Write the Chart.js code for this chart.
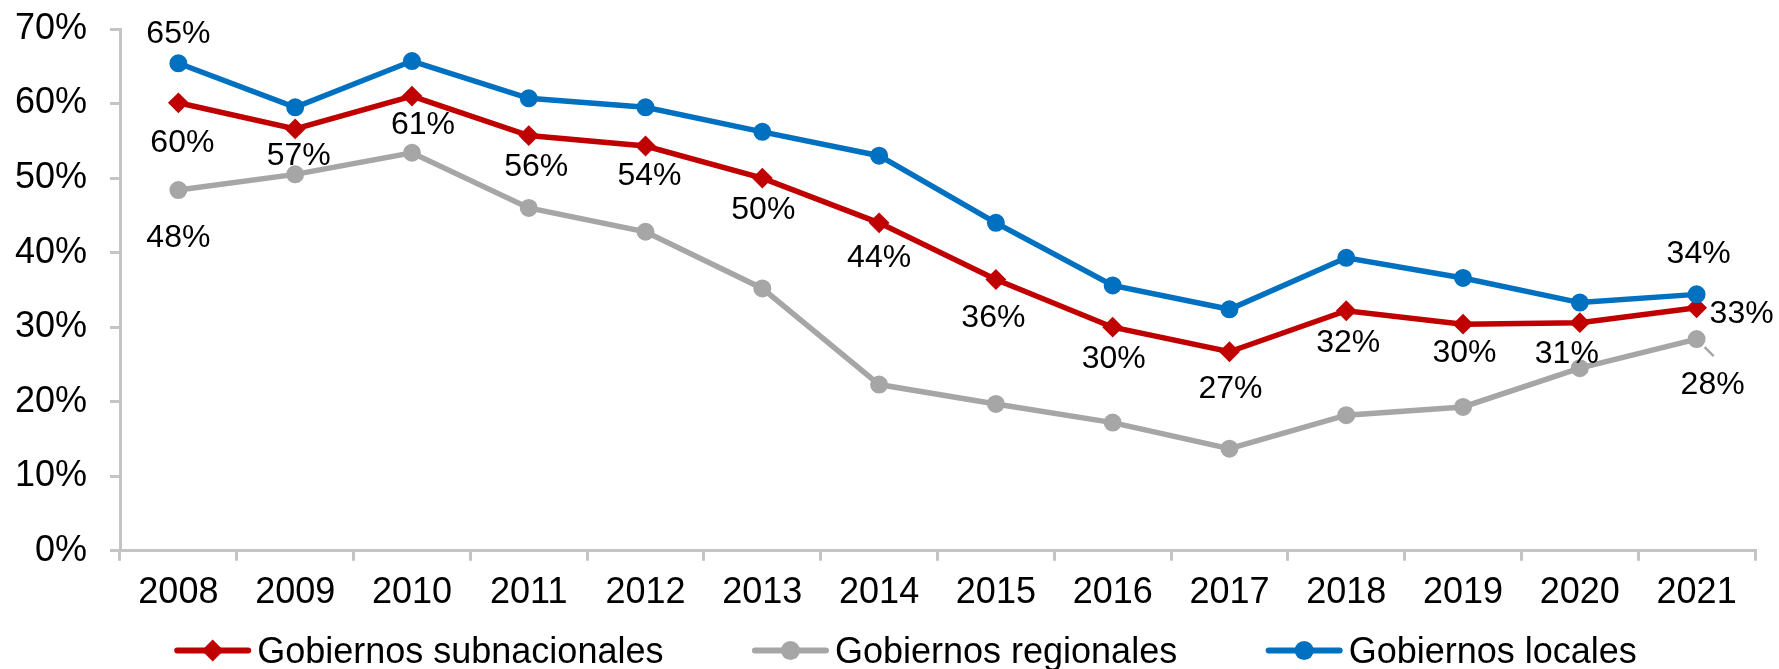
<!DOCTYPE html>
<html>
<head>
<meta charset="utf-8">
<script src="https://cdn.jsdelivr.net/npm/chart.js@4"></script>
<style>
  html, body { margin: 0; padding: 0; background: #ffffff; }
  #wrap { width: 1779px; height: 669px; position: relative; }
</style>
</head>
<body>
<div id="wrap"><canvas id="c"></canvas></div>
<script>
// ---- Data ----
const years = ['2008','2009','2010','2011','2012','2013','2014','2015','2016','2017','2018','2019','2020','2021'];
const subnacionales = [60.1, 56.6, 61.0, 55.7, 54.3, 50.0, 44.0, 36.4, 30.0, 26.7, 32.2, 30.4, 30.6, 32.6];
const regionales    = [48.4, 50.5, 53.4, 46.0, 42.8, 35.2, 22.3, 19.7, 17.2, 13.7, 18.2, 19.3, 24.5, 28.4];
const locales       = [65.4, 59.5, 65.7, 60.7, 59.5, 56.2, 53.0, 44.0, 35.6, 32.4, 39.3, 36.6, 33.3, 34.4];
const seriesNames = ['Gobiernos subnacionales', 'Gobiernos regionales', 'Gobiernos locales'];
const yTickValues = [0, 10, 20, 30, 40, 50, 60, 70];

// ---- Styles ----
const RED = '#C00000', GRAY = '#A6A6A6', BLUE = '#0070C0', AXIS = '#C4C4C4';
const FONT = "'Liberation Sans', Arial, Helvetica, sans-serif";

// Label placement (visual center offset from the point, in px), by dataset index and point index
const labelPlacement = {
  0: { 0:[4,37.5], 1:[3.5,25], 2:[11,26], 3:[7.5,29], 4:[4,28], 5:[1,29], 6:[0,33], 7:[-2.5,36],
       8:[1,29], 9:[1,35], 10:[2,30], 11:[1.5,26], 12:[-13,29], 13:[45,4] },
  1: { 0:[0,46], 13:[16,43] },
  2: { 0:[0,-31.5], 13:[2,-43] }
};

const dataLabelsPlugin = {
  id: 'dataLabels',
  afterDatasetsDraw(chart) {
    const ctx = chart.ctx;
    const fs = 32;
    ctx.save();
    ctx.font = fs + 'px ' + FONT;
    ctx.fillStyle = '#000';
    ctx.textAlign = 'center';
    ctx.textBaseline = 'alphabetic';
    Object.keys(labelPlacement).forEach(di => {
      const meta = chart.getDatasetMeta(+di);
      const vals = chart.data.datasets[+di].data;
      Object.keys(labelPlacement[di]).forEach(i => {
        const pt = meta.data[+i];
        const off = labelPlacement[di][i];
        if (+di === 1 && +i === 13) {
          ctx.save();
          ctx.strokeStyle = GRAY; ctx.lineWidth = 2.5;
          ctx.beginPath();
          ctx.moveTo(pt.x + 8, pt.y + 8);
          ctx.lineTo(pt.x + 17, pt.y + 17);
          ctx.stroke();
          ctx.restore();
        }
        ctx.fillText(Math.round(vals[+i]) + '%', pt.x + off[0], pt.y + off[1] + 0.358 * fs);
      });
    });
    ctx.restore();
  }
};

const legendItems = [
  { text: seriesNames[0], color: RED, style: 'diamond' },
  { text: seriesNames[1], color: GRAY, style: 'circle' },
  { text: seriesNames[2], color: BLUE, style: 'circle' }
];

const customLegend = {
  id: 'customLegend',
  afterDraw(chart) {
    const ctx = chart.ctx;
    const fs = 36;
    const lineLen = 77, gap = 6, itemGap = 88.5;
    const cy = 650.5, baseline = 663;
    ctx.save();
    ctx.font = fs + 'px ' + FONT;
    const widths = legendItems.map(it => ctx.measureText(it.text).width);
    const total = legendItems.length * (lineLen + gap) + widths.reduce((a, b) => a + b, 0) + itemGap * (legendItems.length - 1);
    let x = 905.5 - total / 2;
    legendItems.forEach((it, k) => {
      ctx.strokeStyle = it.color;
      ctx.fillStyle = it.color;
      ctx.lineWidth = 6;
      ctx.lineCap = 'round';
      ctx.beginPath();
      ctx.moveTo(x + 3, cy);
      ctx.lineTo(x + lineLen - 3, cy);
      ctx.stroke();
      const mx = x + lineLen / 2;
      ctx.beginPath();
      if (it.style === 'diamond') {
        const r = 11;
        ctx.moveTo(mx - r, cy); ctx.lineTo(mx, cy - r); ctx.lineTo(mx + r, cy); ctx.lineTo(mx, cy + r);
        ctx.closePath();
      } else {
        ctx.arc(mx, cy, 9.5, 0, Math.PI * 2);
      }
      ctx.fill();
      ctx.fillStyle = '#000';
      ctx.textAlign = 'left';
      ctx.textBaseline = 'alphabetic';
      ctx.fillText(it.text, x + lineLen + gap, baseline);
      x += lineLen + gap + widths[k] + itemGap;
    });
    ctx.restore();
  }
};

const commonLine = { borderWidth: 5.5, tension: 0, pointRadius: 8, pointBorderWidth: 2, pointHoverRadius: 8, fill: false };

new Chart(document.getElementById('c'), {
  type: 'line',
  data: {
    labels: years,
    datasets: [
      Object.assign({}, commonLine, { label: seriesNames[0], data: subnacionales, borderColor: RED, backgroundColor: RED,
        pointBackgroundColor: RED, pointBorderColor: RED, pointStyle: 'rectRot', pointRadius: 9, order: 1 }),
      Object.assign({}, commonLine, { label: seriesNames[1], data: regionales, borderColor: GRAY, backgroundColor: GRAY,
        pointBackgroundColor: GRAY, pointBorderColor: GRAY, pointStyle: 'circle', order: 2 }),
      Object.assign({}, commonLine, { label: seriesNames[2], data: locales, borderColor: BLUE, backgroundColor: BLUE,
        pointBackgroundColor: BLUE, pointBorderColor: BLUE, pointStyle: 'circle', order: 0 })
    ]
  },
  options: {
    responsive: true,
    maintainAspectRatio: false,
    devicePixelRatio: 1,
    animation: false,
    layout: { padding: { top: 29, right: 24, bottom: 43, left: 0 } },
    plugins: { legend: { display: false }, tooltip: { enabled: false } },
    scales: {
      x: {
        type: 'category',
        offset: true,
        grid: { display: true, drawOnChartArea: false, drawTicks: true, tickLength: 10, offset: true, color: AXIS, lineWidth: 3 },
        border: { display: true, color: AXIS, width: 3 },
        ticks: { color: '#000', font: { family: FONT, size: 36 }, padding: 11, maxRotation: 0, autoSkip: false }
      },
      y: {
        min: 0, max: 70,
        afterBuildTicks(scale) { scale.ticks = yTickValues.map(v => ({ value: v })); },
        afterFit(scale) { scale.width = 120; scale.paddingTop = 0; scale.paddingBottom = 0; },
        grid: { display: true, drawOnChartArea: false, drawTicks: true, tickLength: 10, color: AXIS, lineWidth: 3 },
        border: { display: true, color: AXIS, width: 3 },
        ticks: { color: '#000', font: { family: FONT, size: 36 }, padding: 23, callback: v => v + '%' }
      }
    }
  },
  plugins: [dataLabelsPlugin, customLegend]
});
</script>
</body>
</html>
